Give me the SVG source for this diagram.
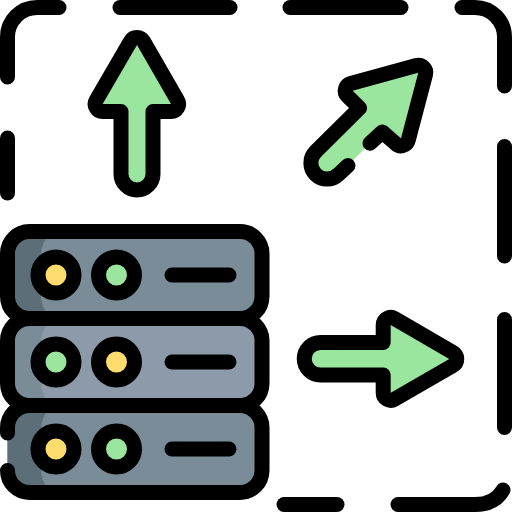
<svg xmlns="http://www.w3.org/2000/svg" width="512" height="512" viewBox="0 0 512 512">
<style>
.l{fill:none;stroke:#000;stroke-width:15;stroke-linecap:round;stroke-linejoin:round}
.a{fill:#9ae69f;stroke:#000;stroke-width:15;stroke-linecap:round;stroke-linejoin:round}
.g{fill:#9ae69f}.y{fill:#ffdc6e}
.led{stroke:#000;stroke-width:15}
.base{fill:#7a8c98}.light{fill:#8c9aaa}.dark{fill:#5c6e78}
</style>
<g id="boundary" class="l">
<path d="M7.5 77V37A29.5 29.5 0 0 1 37 7.5H59"/>
<path d="M120 7.5H230"/>
<path d="M290 7.5H401"/>
<path d="M462 7.5H475A29.5 29.5 0 0 1 504.5 37V86"/>
<path d="M504.5 146.500V256"/>
<path d="M504.5 319.500V427.500"/>
<path d="M503 490Q495 504.500 475 504.500H398"/>
<path d="M284 504.500H337"/>
<path d="M7.500 138V193"/>
</g>
<g id="arrow-up"><path class="a" d="M121 111.500H102.700A7.500 7.500 0 0 1 96.200 100.200L130.500 41.200A7.500 7.500 0 0 1 143.500 41.200L177.500 100.200A7.500 7.500 0 0 1 171 111.500H153V174A16 16 0 0 1 121 174Z"/></g>
<g id="arrow-diagonal"><path class="a" d="M370 143.300L382.300 132L395.700 143.600A7.500 7.500 0 0 0 408.250 140.200L425.500 74.600A7.500 7.500 0 0 0 416.300 65.500L350.700 83.500A7.500 7.500 0 0 0 347.400 96L359.600 108L315.600 151.600A16 16 0 0 0 338.400 174.400L348 165.500"/></g>
<g id="arrow-right"><path class="a" d="M383.200 342.500V325A7.500 7.500 0 0 1 394.500 318.500L453 352.500A7.500 7.500 0 0 1 453 365.500L394.500 399.200A7.500 7.500 0 0 1 383.200 392.700V375H320.500A16.250 16.250 0 0 1 320.500 342.500Z"/></g>
<g id="server-1">
<rect class="base" x="7.500" y="231.500" width="254.500" height="87" rx="22"/>
<path class="dark" d="M10 236H48Q41 245 41 255V295Q41 305 47 314H10Z"/>
<rect class="l" x="7.500" y="231.500" width="254.500" height="87" rx="22"/>
<circle class="y led" cx="56" cy="275" r="18"/><circle class="g led" cx="116.500" cy="275" r="18"/>
<path class="l" d="M172 275H229"/>
</g>
<g id="server-2">
<rect class="light" x="7.500" y="318.500" width="254.500" height="87" rx="22"/>
<path class="base" d="M10 323H48Q41 332 41 342V382Q41 392 47 401H10Z"/>
<rect class="l" x="7.500" y="318.500" width="254.500" height="87" rx="22"/>
<circle class="g led" cx="56" cy="362" r="18"/><circle class="y led" cx="116.500" cy="362" r="18"/>
<path class="l" d="M172 362H229"/>
</g>
<g id="server-3">
<rect class="base" x="7.500" y="405.500" width="254.500" height="87" rx="22"/>
<path class="dark" d="M7.500 428A20 20 0 0 1 25 410H48Q41 419 41 429V469Q41 479 47 488H25A20 20 0 0 1 7.500 470Z"/>
<path class="l" d="M7.500 433V427.500A22 22 0 0 1 29.500 405.500H240A22 22 0 0 1 262 427.500V470.500A22 22 0 0 1 240 492.500H29.500A22 22 0 0 1 7.500 470.500"/>
<circle class="y led" cx="56" cy="449" r="18"/><circle class="g led" cx="116.500" cy="449" r="18"/>
<path class="l" d="M172 449H229"/>
</g>
</svg>
